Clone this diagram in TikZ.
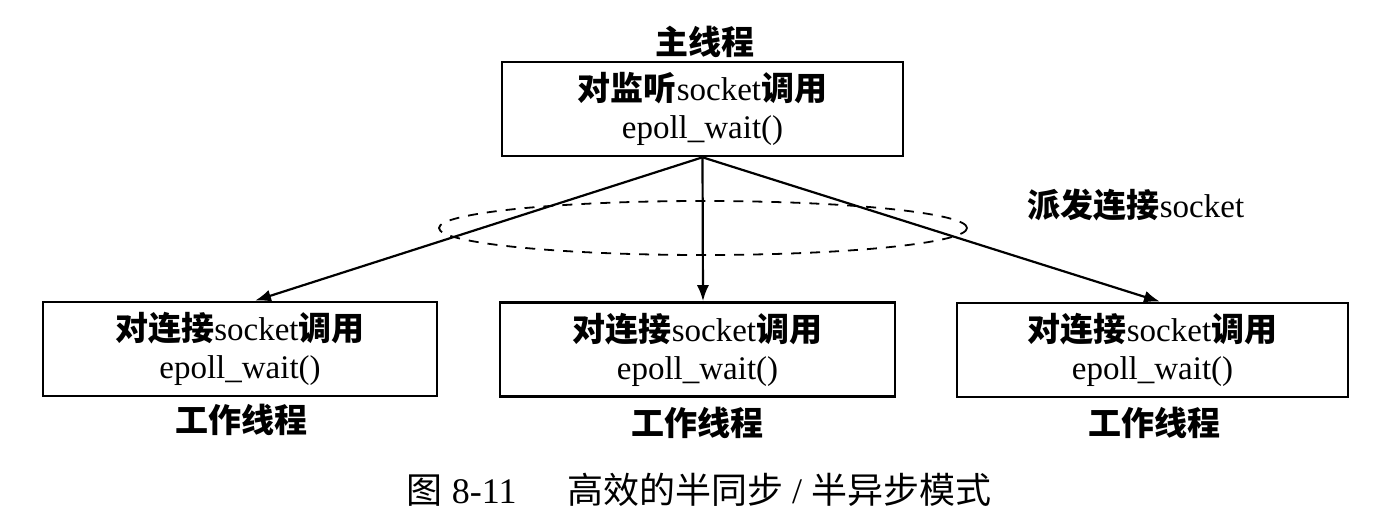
\documentclass[tikz,border=0pt]{standalone}
\usepackage{fontspec}
\setmainfont{Liberation Serif}
\newfontfamily\cjk{Noto Sans CJK SC}
\usetikzlibrary{arrows.meta,shapes.geometric}
\tikzset{Box/.style={draw,line width=1.3pt,minimum width=#1,minimum height=47pt,inner sep=0pt,align=center,font=\fontsize{16.5}{19}\selectfont},
         Box/.default=197pt,
         Tag/.style={inner sep=0pt,font=\fontsize{16.5}{19}\selectfont\cjk\bfseries},
         Arr/.style={-{Latex[length=8pt,width=6pt]},line width=1.1pt},
         Ring/.style={draw,ellipse,dashed,dash pattern=on 5pt off 4.5pt,line width=0.9pt,minimum width=264pt,minimum height=27pt,inner sep=0pt}}
\newcommand{\cj}[1]{{\cjk\bfseries #1}}

\begin{document}
\begin{tikzpicture}[x=0.5pt,y=-0.5pt]
            \useasboundingbox (0,0) rectangle (1397,524);
            \node[Box=200.5pt] (n1) at (702.5,109) {\cj{对监听}socket\cj{调用}\\epoll\_wait()};
            \node[Box] (n2) at (240,349) {\cj{对连接}socket\cj{调用}\\epoll\_wait()};
            \node[Box=197.5pt] (n3) at (697.5,349.5) {\cj{对连接}socket\cj{调用}\\epoll\_wait()};
            \node[Box=195.5pt] (n4) at (1152.5,350) {\cj{对连接}socket\cj{调用}\\epoll\_wait()};
            \node[Ring] (e1) at (703,228) {};
            \node[Tag] (t1) at (705,42) {主线程};
            \node[Tag] (t2) at (241,420) {工作线程};
            \node[Tag] (t3) at (697,423) {工作线程};
            \node[Tag] (t4) at (1154,423) {工作线程};
            \node[Tag] (t5) at (1136,205) {派发连接{\rmfamily\mdseries socket}};
            \draw[Arr] (n1.south) -- ([xshift=7.5pt]n2.north);
            \draw[Arr] (n1.south) -- ([xshift=2.75pt]n3.north);
            \draw[Arr] (n1.south) -- ([xshift=3.75pt]n4.north);
            \node[inner sep=0pt,font=\fontsize{18}{21}\selectfont] (c1) at (699,490) {{\cjk 图}~8-11\hspace{1.4em}{\cjk 高效的半同步}~/~{\cjk 半异步模式}};
        \end{tikzpicture}
\end{document}
